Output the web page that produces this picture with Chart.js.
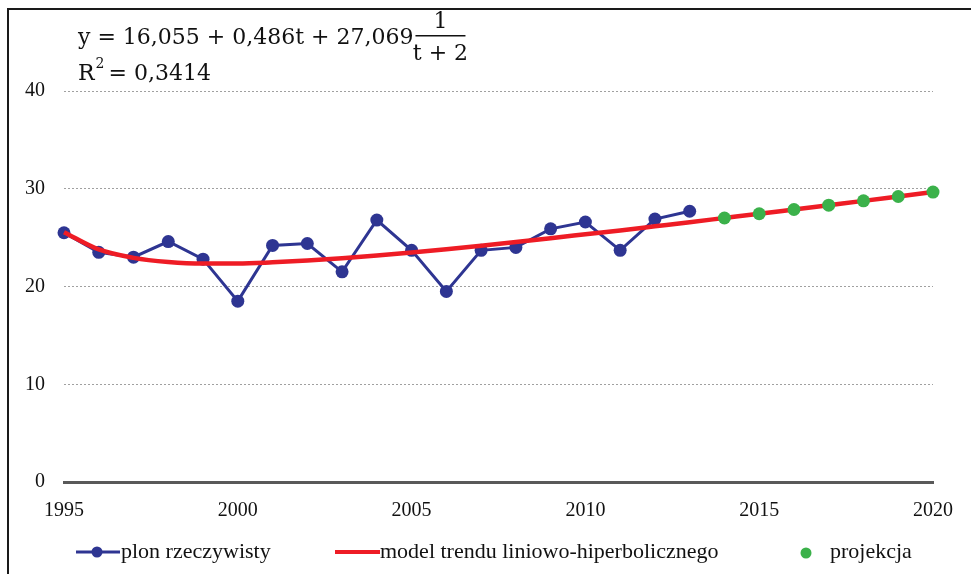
<!DOCTYPE html>
<html>
<head>
<meta charset="utf-8">
<script src="https://cdn.jsdelivr.net/npm/chart.js@4.4.0/dist/chart.umd.min.js"></script>
<style>
  html, body { margin: 0; padding: 0; background: #fff; }
  #wrap { width: 971px; height: 574px; position: relative; }
</style>
</head>
<body>
<div id="wrap"><canvas id="canvas" width="971" height="574"></canvas></div>
<script>
// years
var yearsActual = [1995, 1996, 1997, 1998, 1999, 2000, 2001, 2002, 2003, 2004, 2005, 2006, 2007, 2008, 2009, 2010, 2011, 2012, 2013];
var yearsTrend = [1995, 1996, 1997, 1998, 1999, 2000, 2001, 2002, 2003, 2004, 2005, 2006, 2007, 2008, 2009, 2010, 2011, 2012, 2013, 2014, 2015, 2016, 2017, 2018, 2019, 2020];
var yearsProj = [2014, 2015, 2016, 2017, 2018, 2019, 2020];

// plon rzeczywisty
var plon = [25.5, 23.5, 23.0, 24.6, 22.8, 18.5, 24.2, 24.4, 21.5, 26.8, 23.7, 19.5, 23.7, 24.0, 25.9, 26.6, 23.7, 26.9, 27.7];
// model trendu liniowo-hiperbolicznego
var trend = [25.56, 23.79, 22.93, 22.51, 22.35, 22.35, 22.47, 22.65, 22.89, 23.17, 23.48, 23.82, 24.18, 24.55, 24.94, 25.34, 25.74, 26.16, 26.58, 27.01, 27.44, 27.88, 28.32, 28.76, 29.21, 29.66];
// projekcja
var projekcja = [27.01, 27.44, 27.88, 28.32, 28.76, 29.21, 29.66];

var yTicks = [0, 10, 20, 30, 40];
var xTicks = [1995, 2000, 2005, 2010, 2015, 2020];

var BLUE = '#2e3592';
var RED = '#ee1c25';
var GREEN = '#3bb14a';
var SERIF = '"Liberation Serif", "Times New Roman", serif';

function pairs(xs, ys) {
    var out = [];
    for (var i = 0; i < xs.length; i++) out.push({ x: xs[i], y: ys[i] });
    return out;
}

// formula, legend and frame
var extras = {
    id: 'extras',
    afterDraw: function(chart) {
        var c = chart.ctx;
        c.save();
        // frame (left and top edges visible)
        c.strokeStyle = '#1a1a1a';
        c.lineWidth = 2;
        c.beginPath();
        c.moveTo(8, 574);
        c.lineTo(8, 9);
        c.lineTo(971, 9);
        c.stroke();

        // formula
        c.fillStyle = '#111';
        c.textBaseline = 'alphabetic';
        c.textAlign = 'left';
        c.font = '22px "DejaVu Serif", serif';
        var main = 'y = 16,055 + 0,486t + 27,069';
        c.fillText(main, 78, 44);
        var fx = 78 + c.measureText(main).width + 2;
        var fw = 50;
        c.fillRect(fx, 35, fw, 1.5);
        c.textAlign = 'center';
        c.fillText('1', fx + fw / 2, 28);
        c.fillText('t + 2', fx + fw / 2, 60);
        c.textAlign = 'left';
        c.fillText('R', 78, 80);
        var rx = 78 + c.measureText('R').width + 1;
        c.font = '14px "DejaVu Serif", serif';
        c.fillText('2', rx, 68);
        c.font = '22px "DejaVu Serif", serif';
        c.fillText('= 0,3414', rx + 13, 80);

        // legend
        var ly = 552;
        c.font = '22px ' + SERIF;
        c.textBaseline = 'middle';
        c.lineCap = 'butt';
        c.strokeStyle = BLUE;
        c.lineWidth = 3;
        c.beginPath(); c.moveTo(76, ly); c.lineTo(120, ly); c.stroke();
        c.fillStyle = BLUE;
        c.beginPath(); c.arc(97, ly, 5.5, 0, Math.PI * 2); c.fill();
        c.fillStyle = '#111';
        c.fillText('plon rzeczywisty', 121, ly);

        c.strokeStyle = RED;
        c.lineWidth = 4;
        c.beginPath(); c.moveTo(335, ly); c.lineTo(380, ly); c.stroke();
        c.fillStyle = '#111';
        c.fillText('model trendu liniowo-hiperbolicznego', 380, ly);

        c.fillStyle = GREEN;
        c.beginPath(); c.arc(806, ly + 1, 5.5, 0, Math.PI * 2); c.fill();
        c.fillStyle = '#111';
        c.fillText('projekcja', 830, ly);
        c.restore();
    }
};

window.onload = function() {
    var ctx = document.getElementById('canvas').getContext('2d');
    window.myChart = new Chart(ctx, {
        type: 'line',
        data: {
            datasets: [{
                label: 'projekcja',
                data: pairs(yearsProj, projekcja),
                showLine: false,
                pointRadius: 6.5,
                pointBackgroundColor: GREEN,
                pointBorderWidth: 0,
                borderColor: GREEN,
                clip: false,
                order: 0
            }, {
                label: 'model trendu liniowo-hiperbolicznego',
                data: pairs(yearsTrend, trend),
                borderColor: RED,
                borderWidth: 4.5,
                pointRadius: 0,
                cubicInterpolationMode: 'monotone',
                clip: false,
                order: 1
            }, {
                label: 'plon rzeczywisty',
                data: pairs(yearsActual, plon),
                borderColor: BLUE,
                borderWidth: 3,
                pointRadius: 6.5,
                pointBackgroundColor: BLUE,
                pointBorderWidth: 0,
                tension: 0,
                clip: false,
                order: 2
            }]
        },
        options: {
            responsive: false,
            animation: false,
            layout: { padding: { left: 0, top: 91, right: 38, bottom: 0 } },
            plugins: {
                legend: { display: false },
                title: { display: false },
                tooltip: { enabled: false }
            },
            scales: {
                x: {
                    type: 'linear',
                    min: 1995,
                    max: 2020,
                    afterBuildTicks: function(axis) {
                        axis.ticks = xTicks.map(function(v) { return { value: v }; });
                    },
                    afterFit: function(axis) { axis.height = 92; },
                    grid: { display: false, drawTicks: false },
                    border: { display: true, color: '#595959', width: 3 },
                    ticks: {
                        padding: 17,
                        color: '#111',
                        font: { family: SERIF, size: 20 },
                        callback: function(v) { return String(v); }
                    }
                },
                y: {
                    min: 0,
                    max: 40,
                    afterBuildTicks: function(axis) {
                        axis.ticks = yTicks.map(function(v) { return { value: v }; });
                    },
                    afterFit: function(axis) { axis.width = 64; },
                    grid: {
                        drawTicks: false,
                        color: function(c) { return c.tick && c.tick.value === 0 ? 'rgba(0,0,0,0)' : '#a0a0a0'; },
                        lineWidth: 1
                    },
                    border: { display: false, dash: [2, 2] },
                    ticks: {
                        padding: 19,
                        color: '#111',
                        font: { family: SERIF, size: 20 }
                    }
                }
            }
        },
        plugins: [extras]
    });
};
</script>
</body>
</html>
